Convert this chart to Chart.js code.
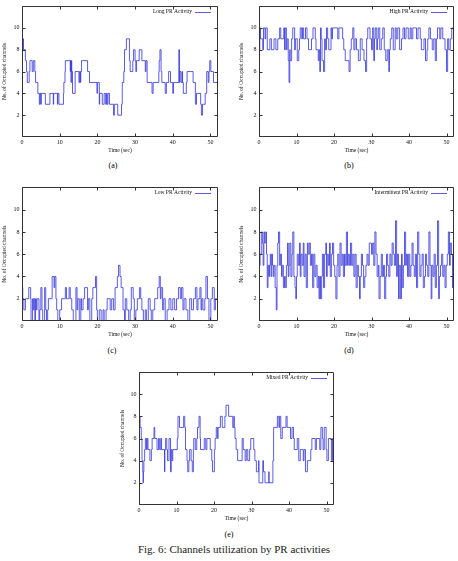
<!DOCTYPE html>
<html>
<head>
<meta charset="utf-8">
<script src="https://cdn.jsdelivr.net/npm/chart.js@4.4.0/dist/chart.umd.min.js"></script>
<style>
  body { margin: 0; background: #fff; }
  #page { position: relative; width: 458px; height: 561px; overflow: hidden; }
  canvas { position: absolute; }
  .sub, .caption { position: absolute; transform: translate(-50%, -50%); font-family: "Liberation Serif", serif; color: #000; white-space: nowrap; }
  .sub { font-size: 8px; }
  .caption { font-size: 11px; color: #222; }
</style>
</head>
<body>
<div id="page">
  <canvas id="chartA"></canvas>
  <canvas id="chartB"></canvas>
  <canvas id="chartC"></canvas>
  <canvas id="chartD"></canvas>
  <canvas id="chartE"></canvas>
  <div class="sub" style="left:113px;top:165px">(a)</div>
  <div class="sub" style="left:349px;top:165px">(b)</div>
  <div class="sub" style="left:112px;top:350px">(c)</div>
  <div class="sub" style="left:349px;top:350px">(d)</div>
  <div class="sub" style="left:229px;top:534px">(e)</div>
  <div class="caption" style="left:234px;top:549px">Fig. 6: Channels utilization by PR activities</div>
</div>
<script>
// ─── DATA ─────────────────────────────────────────────────
// each series: times where the channel count changes, and the count held from then on
const xTickValues = [0, 10, 20, 30, 40, 50];
const yTickValues = [2, 4, 6, 8, 10];

const longTimes = [0,0.2,0.4,0.9,1.2,1.4,1.9,2.1,2.7,3.0, 3.4,3.6,4.2,4.6,4.8,5.0,5.1,6.2,7.4,8.3,
  8.4,9.4,9.5,9.8,11.0,11.1,11.4,11.5,12.8,12.9, 13.0,13.1,13.2,13.4,14.1,15.1,15.3,15.5,15.6,15.8,
  17.4,17.9,19.9,20.0,20.5,20.6,21.3,21.8,22.2,22.4, 22.6,22.8,23.2,24.3,24.5,25.4,26.4,26.6,27.0,27.2,
  27.7,28.5,28.7,29.4,29.6,30.0,30.2,30.4,31.1,31.8, 32.7,32.9,33.2,34.5,34.8,36.3,36.4,36.6,36.9,37.1,
  38.0,38.3,38.9,39.4,40.0,40.2,41.6,41.8,41.9,42.2, 42.5,42.6,42.8,43.6,43.8,45.4,46.0,46.3,47.4,47.6,
  47.9,48.6,49.0,49.4,49.6,49.8,50.1,50.8,51.8,52];
const longValues = [9,8,9,8,7,6,5,6,7,6, 7,6,5,4,3,4,3,4,3,4,
  3,4,3,4,3,4,5,6,7,6, 7,5,7,6,4,6,5,6,5,6,
  7,6,5,4,5,3,4,3,4,3, 4,3,4,3,2,3,2,3,5,6,
  8,9,7,6,7,8,7,6,7,8, 7,6,7,5,4,5,6,7,8,6,
  5,4,5,6,5,4,5,8,5,6, 5,6,5,4,5,6,5,3,4,3,
  2,3,4,6,5,6,7,6,5,5];

const highTimes = [0,0.2,0.4,1.0,1.2,1.6,1.8,2.2,2.9,3.3, 4.0,4.5,5.0,5.5,5.8,6.6,6.8,7.0,7.3,7.5,
  7.8,8.0,8.2,8.3,8.7,9.0,9.5,9.7,10.2,10.6, 10.8,11.0,11.4,11.6,11.9,12.4,12.8,13.2,14.0,14.4,
  15.0,15.2,15.8,16.0,16.2,16.4,16.6,16.8,17.2,17.5, 17.7,18.0,18.3,18.6,19.2,19.4,19.6,21.0,21.3,22.3,
  22.6,23.0,24.0,24.3,24.6,25.0,25.3,25.6,26.0,26.5, 27.0,27.5,28.0,28.4,28.7,29.0,29.6,30.0,30.3,30.6,
  30.8,31.0,31.4,31.6,31.8,32.2,32.6,33.0,33.4,33.8, 34.2,34.6,34.8,35.0,35.4,35.8,36.3,36.6,37.0,37.5,
  38.0,38.4,38.8,39.2,39.8,40.3,40.6,41.0,42.0,42.4, 43.0,43.3,44.0,44.4,44.8,45.0,45.3,45.7,46.2,46.6,
  47.0,47.3,47.6,48.2,48.5,49.0,49.6,50.0,50.3,50.6, 51.0,51.4,51.8,52];
const highValues = [10,8,10,9,8,10,9,10,8,9, 8,9,8,9,10,9,10,8,10,8,
  9,7,5,8,7,9,10,8,9,7, 8,9,10,9,10,9,10,9,8,9,
  10,9,8,7,8,6,10,9,7,6, 9,8,10,9,8,10,9,10,9,10,
  9,8,7,6,8,9,10,8,9,8, 7,9,8,7,6,9,10,9,8,10,
  7,9,10,8,9,10,8,9,10,8, 7,8,6,8,9,10,8,10,9,10,
  8,9,10,9,10,9,10,9,10,9, 10,9,8,9,7,8,9,10,9,8,
  9,7,9,10,9,10,9,8,6,9, 8,9,10,10];

const lowTimes = [0,0.05,0.2,0.5,0.9,1.8,2.3,2.4,2.8,3.0, 3.2,3.4,3.6,3.8,4.0,4.5,4.7,5.0,5.3,5.5,
  6.0,6.3,6.5,6.8,7.0,8.0,8.5,8.7,9.0,9.2, 9.5,10.0,10.5,11.5,11.8,12.5,12.8,13.2,13.6,14.3,
  14.6,14.8,15.2,15.6,15.8,16.2,16.6,17.4,17.6,18.0, 18.5,18.8,19.5,19.8,20.0,20.5,21.0,21.5,21.8,22.3,
  22.6,23.4,23.8,24.3,24.7,25.3,25.6,26.0,26.3,26.8, 27.2,27.4,27.8,28.3,28.7,29.0,29.5,29.8,30.2,30.6,
  31.2,31.5,31.8,32.2,32.7,33.0,33.5,34.0,34.3,34.7, 35.2,36.0,36.4,36.7,36.9,37.3,37.6,38.0,38.5,39.0,
  39.5,40.0,40.5,41.0,41.5,42.0,42.3,42.7,43.0,43.5, 44.0,44.5,45.0,45.5,46.0,46.4,46.7,47.2,47.5,47.7,
  48.0,48.5,48.8,49.2,49.6,50.1,50.5,51.0,51.3,51.6, 52];
const lowValues = [7,4,3,2,1,2,3,2,0,2, 1,2,0,2,1,2,0,1,3,1,
  0,3,1,0,1,2,4,3,4,2, 1,0,1,2,3,2,3,2,1,0,
  3,1,2,0,2,1,2,3,1,2, 0,2,3,4,1,0,1,0,1,0,
  1,2,1,2,1,3,4,5,4,3, 1,0,2,1,0,1,3,2,0,1,
  2,3,2,1,0,1,0,2,1,0, 1,2,3,4,2,3,1,2,0,1,
  2,1,2,1,2,3,2,3,1,2, 1,0,2,1,2,3,1,2,3,1,
  2,1,2,4,2,0,2,3,1,2, 2];

const interTimes = [0,0.1,0.3,0.6,0.9,1.1,1.3,1.5,1.8,2.0, 2.2,2.4,2.6,2.8,3.0,3.2,3.4,3.6,3.8,4.0,
  4.3,4.6,4.8,5.0,5.2,5.5,5.7,6.0,6.2,6.5, 6.8,7.0,7.3,7.6,7.8,8.0,8.2,8.5,8.8,9.0,
  9.3,9.6,9.8,10.0,10.2,10.5,10.8,11.0,11.2,11.5, 11.8,12.0,12.3,12.6,12.9,13.1,13.4,13.7,14.0,14.3,
  14.6,14.9,15.2,15.5,15.8,16.0,16.2,16.4,16.7,16.9, 17.2,17.5,17.8,18.0,18.2,18.5,18.8,19.0,19.3,19.6,
  19.9,20.2,20.5,20.8,21.0,21.3,21.6,21.9,22.2,22.5, 22.8,23.0,23.3,23.6,23.8,24.1,24.4,24.7,25.0,25.3,
  25.6,25.9,26.2,26.5,26.8,27.0,27.3,27.6,27.9,28.2, 28.5,28.8,29.1,29.4,29.7,30.0,30.3,30.6,30.9,31.2,
  31.5,31.8,32.0,32.3,32.6,32.9,33.2,33.5,33.8,34.0, 34.3,34.6,34.9,35.2,35.5,35.8,36.1,36.4,36.7,36.9,
  37.2,37.4,37.7,38.0,38.2,38.5,38.8,39.1,39.3,39.6, 39.9,40.2,40.5,40.8,41.1,41.4,41.7,42.0,42.3,42.6,
  42.9,43.2,43.5,43.8,44.1,44.4,44.7,45.0,45.3,45.6, 45.9,46.1,46.4,46.7,47.0,47.3,47.6,47.9,48.1,48.4,
  48.7,49.0,49.3,49.6,49.9,50.2,50.5,50.8,51.0,51.3, 51.6,51.8,52];
const interValues = [8,9,5,6,8,7,5,8,7,8, 6,3,5,4,5,6,4,6,5,4,
  5,3,1,5,7,8,5,6,4,5, 3,4,3,5,7,4,5,7,4,6,
  8,4,3,2,4,6,5,7,4,6, 5,7,4,6,3,7,6,7,5,6,
  3,6,4,5,3,4,2,4,2,4, 6,3,6,7,4,6,5,7,4,6,
  7,5,4,2,5,6,4,7,5,6, 4,6,5,8,5,6,5,7,5,6,
  4,6,3,5,4,2,4,6,5,3, 4,5,6,5,7,7,6,7,5,8,
  6,4,5,2,4,6,4,5,2,4, 6,5,4,6,5,7,6,5,9,4,
  6,2,5,2,6,3,5,8,5,6, 4,6,4,5,7,5,4,6,3,8,
  6,4,5,6,3,4,6,5,4,8, 5,2,5,4,6,3,5,9,2,4,
  5,6,4,5,3,5,6,8,5,7, 6,3,4];

const mixedTimes = [0,0.3,0.6,0.8,1.0,1.1,1.15,1.3,1.5,1.7, 2.0,2.2,2.4,2.9,3.3,3.5,4.0,4.2,4.8,5.2,
  5.5,5.8,6.0,6.8,6.9,7.1,7.4,7.6,8.0,8.4, 8.6,8.8,9.0,10.2,10.4,10.8,11.9,12.2,12.4,12.8,
  13.0,13.3,13.5,13.9,14.2,14.5,14.6,15.0,15.4,15.6, 16.0,16.3,16.4,17.4,17.8,18.1,19.0,19.4,19.6,20.1,
  20.3,20.6,20.9,21.1,21.7,22.2,22.9,23.2,23.9,25.0, 25.3,25.4,25.6,25.9,26.3,27.5,27.8,28.3,28.6,29.0,
  29.5,29.8,30.6,30.9,31.3,31.9,32.0,33.0,33.2,33.6, 34.6,34.7,35.7,35.9,36.9,37.3,37.5,37.8,38.2,39.2,
  39.5,40.4,40.8,41.2,41.4,42.2,42.6,43.0,43.8,44.0, 44.4,44.9,45.8,46.1,47.0,47.3,48.2,48.5,48.9,49.1,
  49.4,49.9,50.1,50.5,51.3,51.6,51.8,52];
const mixedValues = [10,8,7,6,4,3,2,3,4,5, 6,5,6,5,4,5,6,7,6,5,
  6,5,6,5,3,5,6,5,4,6, 3,5,4,5,6,8,7,8,7,5,
  4,3,4,5,4,3,5,6,5,6, 7,8,6,5,6,5,6,5,4,3,
  5,6,7,6,7,8,7,8,9,8, 7,8,7,6,5,4,6,5,4,5,
  4,5,6,5,4,3,4,2,4,3, 2,3,2,4,7,8,7,8,6,7,
  8,7,6,7,6,5,6,4,5,4, 5,3,4,5,6,5,6,5,7,6,
  5,7,5,4,6,4,6,6];

// ─── LAYOUT ───────────────────────────────────────────────
const panels = [
    { id: 'chartA', label: 'Long PR Activity', times: longTimes, values: longValues,
      left: 0, top: 0, width: 229, height: 158, padTop: 3, padRight: 11, yWidth: 22, yTitlePad: 1.7 },
    { id: 'chartB', label: 'High PR Activity', times: highTimes, values: highValues,
      left: 229, top: 0, width: 229, height: 158, padTop: 3, padRight: 4, yWidth: 30, yTitlePad: 9.7 },
    { id: 'chartC', label: 'Low PR Activity', times: lowTimes, values: lowValues,
      left: 0, top: 180, width: 229, height: 162, padTop: 7.4, padRight: 11, yWidth: 22, yTitlePad: 1.7 },
    { id: 'chartD', label: 'Intermittent PR Activity', times: interTimes, values: interValues,
      left: 229, top: 180, width: 229, height: 162, padTop: 7.4, padRight: 4, yWidth: 30, yTitlePad: 9.7 },
    { id: 'chartE', label: 'Mixed PR Activity', times: mixedTimes, values: mixedValues,
      left: 110, top: 365, width: 229, height: 161, padTop: 7, padRight: 5, yWidth: 29, yTitlePad: 9.4 },
];

const LINE_COLOR = 'rgb(50,50,220)';
const SERIF = '"Liberation Serif", "DejaVu Serif", serif';

Chart.defaults.font.family = SERIF;
Chart.defaults.color = '#111';

// gnuplot look: closed frame, inward ticks on all sides, legend inside top right
const gnuplotFrame = {
    id: 'gnuplotFrame',
    afterDraw(chart) {
        const { ctx, chartArea: a, scales: { x, y } } = chart;
        const L = Math.round(a.left) + 0.5, R = Math.round(a.right) - 0.5;
        const T = Math.round(a.top) + 0.5, B = Math.round(a.bottom) - 0.5;
        ctx.save();
        ctx.strokeStyle = '#333';
        ctx.lineWidth = 1;
        ctx.beginPath();
        ctx.rect(L, T, R - L, B - T);
        xTickValues.forEach(v => {
            const px = Math.round(x.getPixelForValue(v)) + 0.5;
            ctx.moveTo(px, B); ctx.lineTo(px, B - 3);
            ctx.moveTo(px, T); ctx.lineTo(px, T + 3);
        });
        yTickValues.forEach(v => {
            const py = Math.round(y.getPixelForValue(v)) + 0.5;
            ctx.moveTo(L, py); ctx.lineTo(L + 3, py);
            ctx.moveTo(R, py); ctx.lineTo(R - 3, py);
        });
        ctx.stroke();

        const ds = chart.data.datasets[0];
        const ly = a.top + 5.5;
        ctx.font = '5.5px ' + SERIF;
        ctx.fillStyle = '#111';
        ctx.textAlign = 'right';
        ctx.textBaseline = 'middle';
        ctx.fillText(ds.label, a.right - 26, ly);
        ctx.strokeStyle = ds.borderColor;
        ctx.lineWidth = ds.borderWidth;
        ctx.beginPath();
        ctx.moveTo(a.right - 23, Math.round(ly) + 0.5);
        ctx.lineTo(a.right - 7, Math.round(ly) + 0.5);
        ctx.stroke();
        ctx.restore();
    }
};

panels.forEach(p => {
    if (p.times.length !== p.values.length) {
        throw new Error(p.id + ': ' + p.times.length + ' times vs ' + p.values.length + ' values');
    }
    const canvas = document.getElementById(p.id);
    canvas.width = p.width;
    canvas.height = p.height;
    canvas.style.left = p.left + 'px';
    canvas.style.top = p.top + 'px';

    new Chart(canvas, {
        type: 'line',
        data: {
            datasets: [{
                label: p.label,
                data: p.times.map((t, i) => ({ x: t, y: p.values[i] })),
                stepped: 'after',
                borderColor: LINE_COLOR,
                borderWidth: 0.8,
                pointRadius: 0,
                fill: false,
            }]
        },
        options: {
            responsive: false,
            animation: false,
            layout: { padding: { top: p.padTop, right: p.padRight, left: 0, bottom: 0 } },
            plugins: { legend: { display: false }, tooltip: { enabled: false } },
            scales: {
                x: {
                    type: 'linear', min: 0, max: 52,
                    afterBuildTicks: s => { s.ticks = xTickValues.map(v => ({ value: v })); },
                    afterFit: s => { s.height = 21; },
                    grid: { display: false, drawTicks: false },
                    border: { display: false },
                    ticks: { padding: 2, font: { size: 6 }, maxRotation: 0 },
                    title: { display: true, text: 'Time (sec)', font: { size: 5.5 }, padding: { top: 0, bottom: 3.7 } },
                },
                y: {
                    type: 'linear', min: 0, max: 12,
                    afterBuildTicks: s => { s.ticks = yTickValues.map(v => ({ value: v })); },
                    afterFit: s => { s.width = p.yWidth; },
                    grid: { display: false, drawTicks: false },
                    border: { display: false },
                    ticks: { padding: 2.5, font: { size: 6 } },
                    title: { display: true, text: 'No. of Occupied channels', font: { size: 5.5 }, padding: { top: p.yTitlePad, bottom: 0 } },
                }
            }
        },
        plugins: [gnuplotFrame]
    });
});
</script>
</body>
</html>
